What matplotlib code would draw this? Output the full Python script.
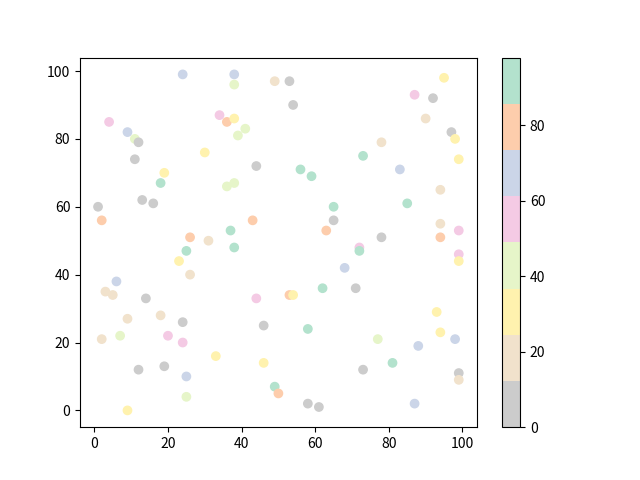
import matplotlib
matplotlib.use("Agg")
import matplotlib.pyplot as plt

plt.rcParams['font.family'] = ['Noto Sans CJK SC', 'DejaVu Sans']

# point positions (x, y) and colour value
x = [24, 4, 9, 11, 12, 11, 30, 19, 18,
     38, 38, 49, 53, 54, 34, 36, 38, 41, 39, 44, 56, 59, 36, 38,
     95, 87, 92, 90, 97, 98, 78, 99, 73, 83,
     13, 16, 1, 2, 26, 31, 25, 23, 26, 6, 3, 5, 14,
     65, 65, 63, 43, 37, 38, 68, 62, 44, 53, 54,
     94, 85, 94, 94, 99, 78, 72, 72, 99, 99, 71,
     9, 18, 24, 2, 7, 20, 24, 33, 12, 19, 25, 25, 9,
     46, 58, 46, 49, 50, 58, 61,
     93, 94, 98, 77, 88, 81, 73, 99, 99, 87]
y = [99, 85, 82, 80, 79, 74, 76, 70, 67,
     99, 96, 97, 97, 90, 87, 85, 86, 83, 81, 72, 71, 69, 66, 67,
     98, 93, 92, 86, 82, 80, 79, 74, 75, 71,
     62, 61, 60, 56, 51, 50, 47, 44, 40, 38, 35, 34, 33,
     60, 56, 53, 56, 53, 48, 42, 36, 33, 34, 34,
     65, 61, 55, 51, 53, 51, 48, 47, 46, 44, 36,
     27, 28, 26, 21, 22, 22, 20, 16, 12, 13, 10, 4, 0,
     25, 24, 14, 7, 5, 2, 1,
     29, 23, 21, 21, 19, 14, 12, 11, 9, 2]
c = [67, 55, 66, 43, 6, 5, 30, 31, 92,
     68, 44, 18, 7, 4, 56, 80, 29, 42, 45, 8, 91, 93, 41, 44,
     32, 54, 3, 19, 9, 28, 20, 33, 90, 65,
     2, 10, 1, 79, 82, 17, 94, 27, 16, 70, 20, 21, 8,
     89, 6, 81, 78, 90, 92, 69, 88, 57, 80, 31,
     19, 95, 15, 83, 58, 11, 52, 91, 53, 32, 7,
     18, 14, 9, 16, 39, 55, 60, 29, 0, 4, 71, 47, 26,
     5, 96, 34, 98, 77, 10, 3,
     25, 33, 64, 40, 66, 97, 9, 2, 15, 73]

fig, ax = plt.subplots()
sc = ax.scatter(x, y, c=c, cmap="Pastel2_r")
fig.colorbar(sc)

fig.savefig("out.png")
